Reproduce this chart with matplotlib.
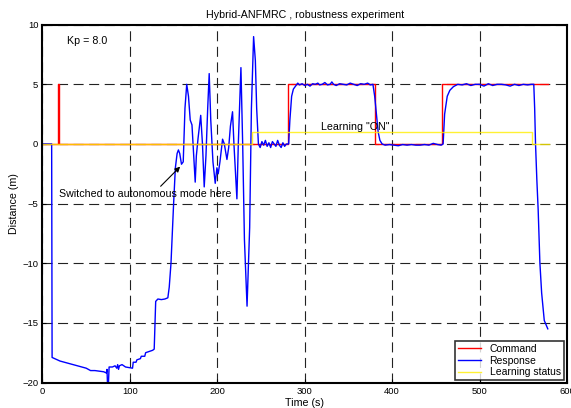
import matplotlib
matplotlib.use("Agg")
import matplotlib.pyplot as plt

plt.rcParams['font.family'] = ['Liberation Sans', 'DejaVu Sans']
plt.rcParams['font.size'] = 7.7

# command signal (m)
cmd_time = [0, 17.8, 17.8, 18.4, 18.4, 281, 281, 380, 380, 457, 457, 578]
cmd_dist = [0, 0, 5, 5, 0, 0, 5, 5, 0, 0, 5, 5]

# learning on/off flag
learn_time = [0, 240, 240, 559.6, 559.6, 579.4]
learn_flag = [0, 0, 1, 1, 0, 0]

# measured response (m)
resp_time = [0, 10.5, 11.0, 20, 30, 40, 50, 55, 60, 70, 73, 73.8, 74.3, 75.5, 76.2,
             80, 83, 85, 86, 87, 88, 91, 95, 103, 103.8, 107, 108, 112, 113, 117,
             118, 122, 126, 127.8, 129.5, 132, 136, 140, 143.4, 145, 147, 150, 152,
             154, 155.5, 157, 159, 161, 163, 165, 167, 169, 171, 173, 174.7, 176,
             178, 181, 183, 185, 187, 189, 190.7, 192.5, 195, 197.6, 199.5, 201,
             203, 206, 208, 211, 213, 215, 217.4, 219, 222.4, 224, 227, 229, 231,
             234, 237, 239, 241.5, 243.5, 245, 247,
             249, 251, 253, 255, 257, 259, 261, 263, 265, 267, 269, 271, 273, 275,
             277, 279, 281.6, 283, 285, 287, 290, 292, 294, 297, 300, 303, 306, 309,
             312, 315, 317, 320, 323, 326, 329, 331, 333, 336, 340, 344, 348, 352,
             356, 360, 364, 368, 372, 375, 378, 380, 382, 384, 386, 388.5, 392, 397,
             402, 407, 412, 417, 422, 427, 432, 437, 442, 447, 452, 456, 458.3, 460,
             463, 466, 470, 475, 480, 485, 490, 495, 500, 505, 510, 515, 520, 525,
             530, 535, 540, 545, 550, 555, 559, 562, 563, 564, 565.5, 567, 569, 571,
             574, 578]
resp_dist = [0, 0, -17.9, -18.2, -18.4, -18.6, -18.8, -19.0, -19.0, -19.1, -19.2, -18.9,
             -20.0, -20.0, -18.7, -18.7, -18.6, -18.8, -18.5, -18.9, -18.6, -18.5,
             -18.7, -18.8, -18.3, -18.3, -18.1, -18.0, -17.8, -17.8, -17.5, -17.4,
             -17.3, -17.2, -13.2, -13.0, -13.05, -13.0, -12.9, -12.0, -10.0, -5.0,
             -2.0, -0.8, -0.5, -0.8, -1.7, -1.5, 3.0, 5.0, 4.0, 2.0, 1.6, -1.0,
             -3.2, -1.0, 0.5, 2.4, 0.0, -3.6, -1.0, 3.0, 5.9, 2.0, -1.5, -3.3, -2.0,
             -2.5, -1.5, 0.4, 0.0, -1.3, -0.3, 1.5, 2.7, 0.0, -4.6, 0.0, 6.4, 0.0,
             -8.0, -13.6, -7.0, 3.0, 9.0, 7.0, 3.0, 0.0,
             -0.3, 0.2, -0.1, 0.3, -0.2, 0.1, -0.3, 0.2, 0.0, -0.2, 0.3, -0.1, -0.3,
             0.1, -0.2, 0.0, 0.0, 2.0, 4.0, 4.6, 4.9, 5.1, 4.95, 5.05, 4.9, 5.0, 4.85,
             5.05, 5.0, 5.1, 4.95, 5.0, 5.15, 4.95, 5.0, 5.2, 5.0, 4.9, 5.05, 5.0,
             4.95, 5.1, 5.0, 4.9, 5.05, 5.0, 5.1, 4.95, 5.0, 4.0, 2.5, 1.0, 0.3, 0.0,
             -0.1, -0.05, -0.1, -0.15, -0.05, -0.1, -0.05, -0.1, -0.1, -0.05, -0.1,
             0.05, -0.05, -0.1, 0.0, 2.5, 4.0, 4.5, 4.8, 5.0, 4.95, 5.05, 4.9, 5.0,
             5.0, 4.85, 5.05, 4.9, 5.0, 5.0, 4.95, 4.85, 5.0, 4.9, 5.0, 4.95, 5.0,
             5.0, 3.0, 0.0, -3.0, -5.5, -10.0, -12.5, -14.8, -15.5]

fig = plt.figure(figsize=(5.71, 4.08), dpi=100)
ax = fig.add_axes([0.0744, 0.0625, 0.9186, 0.877])

ax.plot(cmd_time, cmd_dist, color='red', lw=1, label='Command')
ax.plot(resp_time, resp_dist, color='blue', lw=1, label='Response')
ax.plot(learn_time, learn_flag, color='#ffee00', lw=1, alpha=0.8, label='Learning status')

ax.set_xlim(0, 600)
ax.set_ylim(-20, 10)
ax.set_xticks(range(0, 601, 100))
ax.set_yticks(range(-20, 11, 5))
ax.tick_params(direction='in', length=3, width=0.8, labelsize=6.8, pad=3)
for s in ax.spines.values():
    s.set_linewidth(1.5)
ax.grid(True, color='#222222', lw=0.8, linestyle=(0, (9, 5)))
ax.set_axisbelow(True)

ax.set_title('Hybrid-ANFMRC , robustness experiment', fontsize=7.7, pad=5)
ax.set_xlabel('Time (s)', fontsize=7.7, labelpad=2)
ax.set_ylabel('Distance (m)', fontsize=7.7, labelpad=2)

ax.text(28, 8.6, 'Kp = 8.0', fontsize=7.7, va='center')
ax.text(319, 1.4, 'Learning "ON"', fontsize=7.7, va='center')
ax.annotate('Switched to autonomous mode here', xy=(157.5, -1.9), xytext=(19, -4.2),
            fontsize=7.7, va='center',
            arrowprops=dict(arrowstyle='-|>', color='black', lw=0.8,
                            shrinkA=0, shrinkB=0, relpos=(0.55, 0.6)))

leg = ax.legend(loc='lower right', bbox_to_anchor=(0.994, 0.006), fontsize=7.5,
                fancybox=False, edgecolor='black', handlelength=2.2,
                borderpad=0.3, labelspacing=0.15, handletextpad=0.8, borderaxespad=0)
leg.get_frame().set_linewidth(1.2)

fig.savefig('out.png', dpi=100)
